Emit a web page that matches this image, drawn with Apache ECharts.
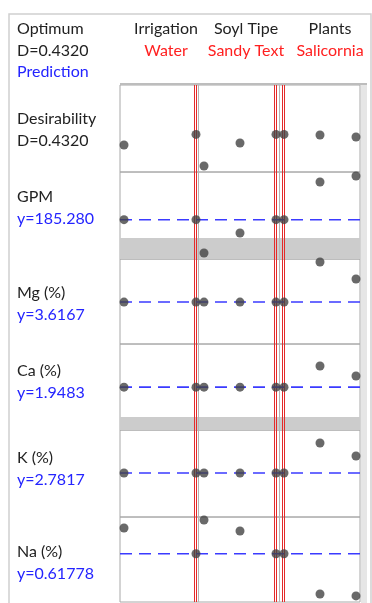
<!DOCTYPE html>
<html><head><meta charset="utf-8">
<script src="https://cdn.jsdelivr.net/npm/echarts/dist/echarts.min.js"></script>
<style>html,body{margin:0;padding:0;background:#fff}#c{width:372px;height:603px}</style>
</head><body><div id="c"></div>
<script>
// ---- data ----
const factors = ['Irrigation', 'Soyl Tipe', 'Plants'];
const settings = ['Water', 'Sandy Text', 'Salicornia'];
const levelCounts = [2, 3, 3];
const currentLevel = [1, 2, 0];
const optimumLabels = ['Optimum', 'D=0.4320', 'Prediction'];
const responses = ['Desirability', 'GPM', 'Mg (%)', 'Ca (%)', 'K (%)', 'Na (%)'];
const predictedLabels = ['D=0.4320', 'y=185.280', 'y=3.6167', 'y=1.9483', 'y=2.7817', 'y=0.61778'];
const predicted = [0.4320, 185.280, 3.6167, 1.9483, 2.7817, 0.61778];
// values at the factor levels: Irrigation (2), Soyl Tipe (3), Plants (3)
const desirability = [0.310, 0.432, 0.069, 0.333, 0.432, 0.432, 0.425, 0.402];
const gpm = [185.28, 185.28, 131.7, 163.8, 185.28, 185.28, 245.9, 255.6];
const mg = [3.6167, 3.6167, 3.6167, 3.6167, 3.6167, 3.6167, 4.206, 3.956];
const ca = [1.9483, 1.9483, 1.9483, 1.9483, 1.9483, 1.9483, 2.170, 2.065];
const k = [2.7817, 2.7817, 2.7817, 2.7817, 2.7817, 2.7817, 3.178, 3.006];
const na = [0.7875, 0.61778, 0.840, 0.768, 0.61778, 0.61778, 0.353, 0.340];
const yRanges = [[0, 1], [122, 262], [3.0, 4.25], [1.5, 2.4], [2.2, 3.35], [0.3, 0.86]];
const shadedBands = [null, [122, 155.8], null, [1.5, 1.636], null, null];

// ---- layout ----
const rowValues = [desirability, gpm, mg, ca, k, na];
const rowTop = [85, 172, 259, 344, 430, 517];
const rowH = [87, 87, 85, 86, 87, 85];
const labelY = [119, 197, 293, 371, 458, 552];
const headerX = [166, 246, 330];
const GL = 120, GW = 240;
const FONT = '16px Lato';
const BLUE = '#2424ff', RED = '#ff2020', INK = '#222';

function levelPos(f, j) {
  const n = levelCounts[f];
  return f + 0.05 + 0.9 * j / (n - 1);
}
const toData = px => (px - GL) / (GW / 3);
const xPositions = [];
factors.forEach((f, fi) => { for (let j = 0; j < levelCounts[fi]; j++) xPositions.push(levelPos(fi, j)); });

const grid = [], xAxis = [], yAxis = [], series = [];
rowValues.forEach((vals, i) => {
  const [ymin, ymax] = yRanges[i];
  grid.push({left: GL, width: GW, top: rowTop[i], height: rowH[i], show: true,
    borderColor: '#a8a8a8', borderWidth: 1, backgroundColor: 'transparent'});
  xAxis.push({type: 'value', gridIndex: i, min: 0, max: 3, show: false});
  yAxis.push({type: 'value', gridIndex: i, min: ymin, max: ymax, show: false});
  const base = {xAxisIndex: i, yAxisIndex: i, silent: true, animation: false, symbol: 'none'};
  if (shadedBands[i]) {
    series.push(Object.assign({}, base, {type: 'line', data: [], z: 1,
      markArea: {silent: true, itemStyle: {color: '#cccccc'},
        data: [[{yAxis: shadedBands[i][0]}, {yAxis: shadedBands[i][1]}]]}}));
  }
  // column dividers (crisp 1px)
  [198.5, 279.5].forEach(px => { const x = toData(px); series.push(Object.assign({}, base, {type: 'line', z: 2,
    data: [[x, ymin], [x, ymax]], lineStyle: {color: '#b4b4b4', width: 1}})); });
  // current settings (red double line)
  currentLevel.forEach((lv, fi) => {
    const P = Math.floor(GL + levelPos(fi, lv) * GW / 3);
    [P - 1.5, P + 0.5].forEach(px => { const x = toData(px); series.push(Object.assign({}, base, {type: 'line', z: 3,
      data: [[x, ymin], [x, ymax]], lineStyle: {color: '#e42a2a', width: 1}})); });
  });
  // predicted response (blue dashed)
  if (i > 0) {
    series.push(Object.assign({}, base, {type: 'line', z: 4,
      data: [[0, predicted[i]], [3, predicted[i]]],
      lineStyle: {color: '#3b3bff', width: 1.6, type: [12, 7]}}));
  }
  series.push({type: 'scatter', xAxisIndex: i, yAxisIndex: i, z: 5, silent: true, animation: false,
    symbol: 'circle', symbolSize: 9, itemStyle: {color: '#444'},
    data: vals.map((v, j) => [xPositions[j], v])});
});

function txt(text, x, y, fill, align) {
  return {type: 'text', silent: true, z: 10, style: {text, x, y, fill, font: FONT,
    textAlign: align || 'left', align: align || 'left', textVerticalAlign: 'middle', verticalAlign: 'middle'}};
}
const graphic = [
  {type: 'rect', silent: true, z: 0, shape: {x: 9, y: 14, width: 362, height: 600},
    style: {fill: 'none', stroke: '#d0d0d0', lineWidth: 1.5}},
  {type: 'rect', silent: true, z: 0, shape: {x: 361, y: 84, width: 6, height: 519}, style: {fill: '#e6e6e6'}},
  {type: 'rect', silent: true, z: 9, shape: {x: 120, y: 83, width: 247, height: 2}, style: {fill: '#bdbdbd'}},
  txt(optimumLabels[0], 17, 29, INK), txt(optimumLabels[1], 17, 51, INK), txt(optimumLabels[2], 17, 72, BLUE)
];
factors.forEach((f, fi) => {
  graphic.push(txt(f, headerX[fi], 29, INK, 'center'));
  graphic.push(txt(settings[fi], headerX[fi], 51, RED, 'center'));
});
responses.forEach((r, i) => {
  graphic.push(txt(r, 17, labelY[i], INK));
  graphic.push(txt(predictedLabels[i], 17, labelY[i] + 22, i === 0 ? INK : BLUE));
});

const chart = echarts.init(document.getElementById('c'), null, {renderer: 'canvas'});
chart.setOption({animation: false, grid, xAxis, yAxis, series, graphic});
</script></body></html>
